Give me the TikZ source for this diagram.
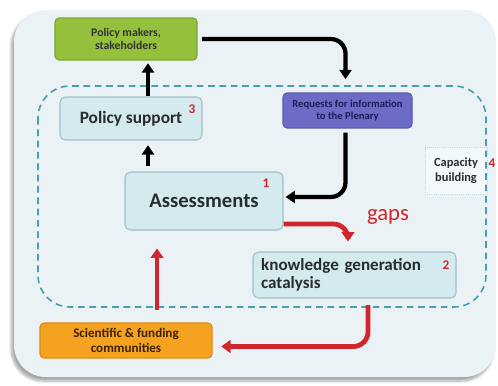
\documentclass[tikz,border=0pt]{standalone}
\usepackage{fontspec}
\setmainfont{Carlito}
\usetikzlibrary{arrows.meta,calc,shadows.blur}

\definecolor{panelbg}{RGB}{234,242,245}
\definecolor{dashteal}{RGB}{70,160,176}
\definecolor{boxfill}{RGB}{212,234,239}
\definecolor{boxline}{RGB}{160,192,200}
\definecolor{leafgreen}{RGB}{148,192,60}
\definecolor{leafline}{RGB}{126,166,52}
\definecolor{plenary}{RGB}{108,108,198}
\definecolor{plenarytext}{RGB}{28,28,90}
\definecolor{fundorange}{RGB}{244,162,32}
\definecolor{fundline}{RGB}{222,138,18}
\definecolor{fundtext}{RGB}{60,34,0}
\definecolor{flowred}{RGB}{208,38,44}
\definecolor{boxtext}{RGB}{38,44,48}

\tikzset{
  lightbox/.style={draw=boxline, line width=0.8pt, fill=boxfill, rounded corners=4pt,
    text=boxtext, font=\bfseries, align=center, inner sep=0pt},
  actorbox/.style={rounded corners=3pt, line width=0.8pt, align=center, inner sep=0pt,
    font=\bfseries\fontsize{8.8}{10}\selectfont},
  numlabel/.style={text=flowred, font=\bfseries\fontsize{10}{12}\selectfont, inner sep=0pt},
  blackflow/.style={draw=black, line width=3.2pt, rounded corners=11pt,
    -{Triangle[width=9pt,length=7pt]}},
  redflow/.style={draw=flowred, line width=3.6pt, rounded corners=11pt,
    -{Triangle[width=9.5pt,length=7pt]}},
}

\begin{document}
\begin{tikzpicture}[x=0.75pt,y=-0.75pt]
\useasboundingbox (0,0) rectangle (498,385);

% panel
\path[fill=panelbg, rounded corners=24pt,
  blur shadow={shadow xshift=-2pt, shadow yshift=-3pt, shadow blur steps=10, shadow opacity=35}]
  (14,10) rectangle (496,377);

% capacity building sits on the platform outline
\node[fill=panelbg!55!white, draw=dashteal!35, densely dotted, line width=0.6pt,
      inner sep=0pt, minimum width=46.5pt, minimum height=35.25pt,
      align=center, text=boxtext, font=\bfseries\fontsize{9.3}{11}\selectfont]
  (cap) at (456,171) {Capacity\\building};

% dashed platform outline
\draw[dashteal, line width=1.2pt, dash pattern=on 5pt off 3.5pt, rounded corners=24pt]
  (38,86) rectangle (486,307);

% boxes
\node[actorbox, draw=leafline, fill=leafgreen, text=black!80,
      minimum width=106.5pt, minimum height=31.5pt] (pm) at (126,39)
  {Policy makers,\\stakeholders};
\node[lightbox, minimum width=106.5pt, minimum height=32.25pt,
      font=\bfseries\fontsize{13}{15}\selectfont] (ps) at (131,118.5) {Policy support};
\node[actorbox, draw=plenary!85!black, fill=plenary, text=plenarytext,
      font=\bfseries\fontsize{8}{9.5}\selectfont,
      minimum width=96.75pt, minimum height=26.25pt] (req) at (347.5,110.5)
  {Requests for information\\to the Plenary};
\node[lightbox, minimum width=118.5pt, minimum height=43.5pt,
      font=\bfseries\fontsize{15.5}{18}\selectfont] (ass) at (204,201) {Assessments};
\node[lightbox, minimum width=152.25pt, minimum height=34.5pt, text width=140pt,
      align=left, font=\bfseries\fontsize{12.8}{13.5}\selectfont] (kg) at (354.5,275)
  {knowledge generation\\catalysis};
\node[actorbox, draw=fundline, fill=fundorange, text=fundtext,
      font=\bfseries\fontsize{9.8}{11.5}\selectfont,
      minimum width=129pt, minimum height=26.25pt] (sci) at (126,340.5)
  {Scientific \& funding\\communities};

% function numbers
\node[numlabel] (n3) at (192,109) {3};
\node[numlabel] (n1) at (266,183) {1};
\node[numlabel] (n2) at (446,265) {2};
\node[numlabel] (n4) at (492,163) {4};
\node[text=flowred, font=\fontsize{17}{20}\selectfont, inner sep=0pt] (gaps) at (388,217) {gaps};

% black flows
\coordinate (upx) at (148,0);
\draw[blackflow, shorten <=4pt, shorten >=3.5pt] (upx |- ass.north) -- (upx |- ps.south);
\draw[blackflow, shorten >=2pt] (upx |- ps.north) -- (upx |- pm.south);
\draw[blackflow, shorten <=3.5pt, shorten >=10pt] (pm.east) -| ($(req.north)+(-2,0)$);
\draw[blackflow, shorten <=3pt, shorten >=1.5pt] ($(req.south)+(-2,0)$) |- ($(ass.east)+(0,-4)$);

% red flows
\draw[redflow, shorten >=7.5pt] ($(ass.east)+(0,23)$) -| ($(kg.north)+(-6.5,0)$);
\draw[redflow, shorten <=5pt, shorten >=6.5pt] ($(kg.south)+(13.5,0)$) |- ($(sci.east)+(0,6)$);
\coordinate (sciup) at ($(sci.north)+(31,0)$);
\draw[redflow, shorten <=9pt, shorten >=13.5pt] (sciup) -- (sciup |- ass.south);
\end{tikzpicture}
\end{document}
